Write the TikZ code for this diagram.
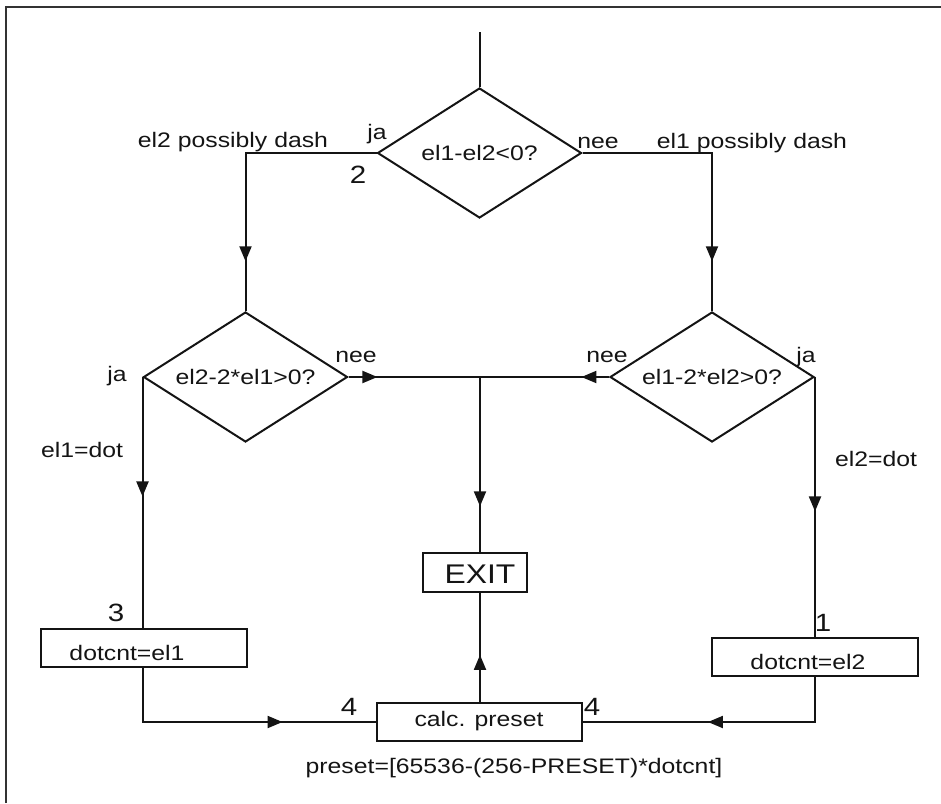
\documentclass[tikz,border=0pt]{standalone}
\usepackage{fontspec}
\setmainfont[FakeStretch=1.18]{Liberation Sans}
\usetikzlibrary{shapes.geometric,arrows.meta,decorations.markings}
\definecolor{ink}{HTML}{141414}
\tikzset{
  every node/.style={text=ink},
  lbl/.style={font=\fontsize{21}{25}\selectfont, inner sep=0pt, anchor=base},
  num/.style={font=\fontsize{25}{28}\selectfont, inner sep=0pt, anchor=base},
  decis/.style={draw=ink, line width=2pt, shape=diamond, aspect=1.57, inner sep=0pt,
    minimum width=204pt, minimum height=130pt, font=\fontsize{21}{25}\selectfont},
  procbox/.style={draw=ink, line width=2pt, rectangle, inner sep=0pt,
    minimum width=206pt, minimum height=38pt},
  conn/.style={draw=ink, line width=2pt},
  arrowat/.style={postaction={decorate}, decoration={markings,
    mark=at position #1 with {\arrow{Triangle[length=15pt,width=12pt]}}}},
}
\begin{document}
\begin{tikzpicture}[x=1pt,y=-1pt]
\useasboundingbox (0,0) rectangle (941,803);
% frame
\draw[draw=black!80, line width=2pt] (6,803) -- (6,7) -- (941,7);

% decisions
\node[decis] (d1) at (479.5,153) {el1-el2<0?};
\node[decis] (d2) at (245.5,377) {el2-2*el1>0?};
\node[decis] (d3) at (712,377) {el1-2*el2>0?};

% boxes
\node[procbox] (b3) at (144,648) {};
\node[lbl] (b3t) at (127,660) {dotcnt=el1};
\node[procbox] (b1) at (815,657) {};
\node[lbl] (b1t) at (808,669) {dotcnt=el2};
\node[procbox, minimum width=205pt] (calc) at (479.5,722) {};
\node[lbl] (calct) at (479,726) {calc. preset};
\node[procbox, minimum width=104pt, minimum height=39pt] (exit) at (475,572.5) {};
\node[font=\fontsize{27}{30}\selectfont, inner sep=0pt, anchor=base] (exitt) at (480,583) {EXIT};

\coordinate (top) at (479.5,32);
\coordinate (j) at (480,377);

% connectors
\draw[conn] (top) -- (d1.north);
\draw[conn, arrowat=0.828] (d1.west) -| (d2.north);
\draw[conn, arrowat=0.827] (d1.east) -| (d3.north);
\draw[conn, arrowat=0.22] (d2.east) -- (j);
\draw[conn, arrowat=0.214] (d3.west) -- (j);
\draw[conn, arrowat=0.739] (j) -- (j |- exit.north);
\draw[conn, arrowat=0.476] (d2.west) -- (d2.west |- b3.north);
\draw[conn, arrowat=0.517] (d3.east) -- (d3.east |- b1.north);
\draw[conn, arrowat=0.675] (d2.west |- b3.south) |- (calc.west);
\draw[conn, arrowat=0.549] (d3.east |- b1.south) |- (calc.east);
\draw[conn, arrowat=0.432] (j |- calc.north) -- (j |- exit.south);

% labels
\node[lbl] (l1) at (233,147) {el2 possibly dash};
\node[lbl] (l2) at (377,139) {ja};
\node[num] (n2) at (358,183) {2};
\node[lbl] (l3) at (598,148) {nee};
\node[lbl] (l4) at (752,148) {el1 possibly dash};
\node[lbl] (l5) at (117,381) {ja};
\node[lbl] (l6) at (356,362) {nee};
\node[lbl] (l7) at (82,457) {el1=dot};
\node[lbl] (l8) at (607,362) {nee};
\node[lbl] (l9) at (806,362) {ja};
\node[lbl] (l10) at (876,466) {el2=dot};
\node[num] (n3) at (116,621) {3};
\node[num] (n1) at (823,631) {1};
\node[num] (n4a) at (349,715) {4};
\node[num] (n4b) at (592,715) {4};
\node[lbl] (l11) at (514,773) {preset=[65536-(256-PRESET)*dotcnt]};
\end{tikzpicture}
\end{document}
